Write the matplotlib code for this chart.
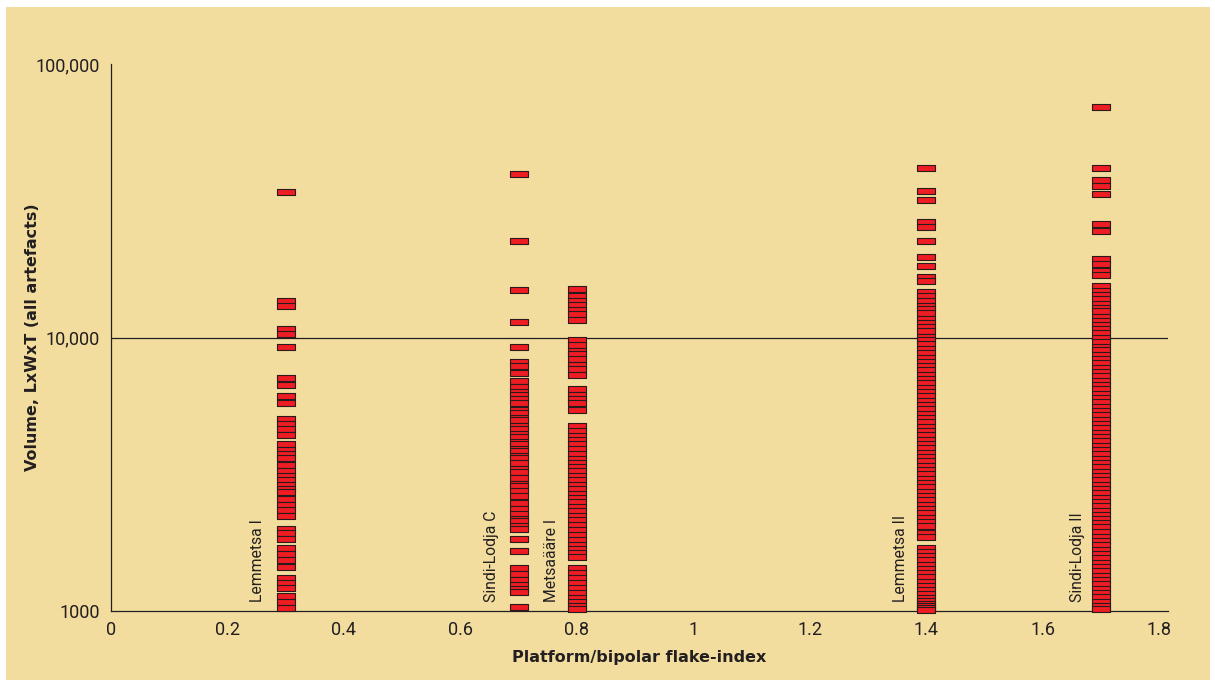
import matplotlib.pyplot as plt
from matplotlib.patches import Rectangle
from matplotlib.ticker import FixedLocator, NullLocator

plt.rcParams['font.family'] = ['Roboto', 'DejaVu Sans']

# flake-index of each site
sites = ["Lemmetsa I", "Sindi-Lodja C", "Metsaääre I", "Lemmetsa II", "Sindi-Lodja II"]
site_x = [0.3, 0.7, 0.8, 1.4, 1.7]
label_x = [0.252, 0.654, 0.756, 1.355, 1.66]

# artefact volumes (LxWxT) per site
lemmetsa_1 = [34000, 13650, 13090, 10700, 10260, 9220, 7130, 6730, 6090, 5760,
              5050, 4813, 4643, 4388, 4093, 3891, 3763, 3626, 3430, 3243,
              3110, 3007, 2900, 2804, 2712, 2557, 2437, 2350, 2222,
              1992, 1921, 1826, 1694, 1614, 1535, 1451,
              1316, 1262, 1210, 1134, 1081, 1028]

sindi_lodja_c = [39530, 22540, 14970, 11370, 9230,
                 8107, 7840, 7392, 6911, 6570, 6327, 6144, 5964, 5744, 5416,
                 5282, 5063, 4979, 4734, 4636, 4427, 4334, 4139, 4070, 3902,
                 3837, 3678, 3617, 3469, 3298, 3217, 3058, 2908, 2859, 2742,
                 2629, 2479, 2357, 2259, 2166, 2130, 2042, 1992,
                 1834, 1659, 1435, 1365, 1298, 1245, 1203, 1173, 1034]

metsaaare_1 = [15050, 14150, 13650, 13200, 12650, 12200, 11600,
               9752, 9350, 8910, 8670, 8370, 7905, 7690, 7270,
               6500, 6157, 5980, 5758, 5448,
               4734, 4540, 4353, 4209, 4070, 3902, 3741, 3587, 3469, 3354,
               3244, 3110, 3007, 2883, 2788, 2673, 2585, 2500, 2396, 2318,
               2221, 2148, 2060, 1975, 1894, 1816, 1741, 1684, 1629, 1574,
               1435, 1376, 1320, 1266, 1213, 1163, 1116, 1079, 1043, 1017]

lemmetsa_2 = [41650, 34200, 31890, 26350, 25270, 22590, 19750, 18310, 16590, 16140,
              14720, 14230, 13650, 13090, 12660, 12240, 11720, 11340, 10880, 10520,
              10080, 9752, 9430, 9040, 8745, 8450, 8107, 7840, 7580, 7270,
              7030, 6800, 6515, 6300, 6090, 5840, 5650, 5460, 5235, 5063,
              4896, 4694, 4540, 4389, 4209, 4070, 3934, 3773, 3647, 3527,
              3383, 3271, 3162, 3032, 2932, 2835, 2719, 2629, 2542, 2438,
              2357, 2279, 2184, 2112, 2042, 1933, 1862,
              1698, 1642, 1587, 1535, 1472, 1423, 1376, 1331, 1276, 1234,
              1193, 1154, 1116, 1088, 1061, 1043, 1025, 1008]

sindi_lodja_2 = [69800, 41830, 37720, 35870, 33460, 26000, 24580,
                 19370, 18580, 17560, 16980,
                 15480, 14840, 14350, 13880, 13310, 12870, 12450, 11920, 11530, 11150,
                 10700, 10350, 10000, 9590, 9270, 8967, 8600, 8313, 8040, 7710,
                 7455, 7207, 6911, 6681, 6461, 6196, 5990, 5792, 5554, 5371,
                 5192, 4979, 4814, 4655, 4465, 4316, 4174, 4001, 3869, 3741,
                 3587, 3469, 3354, 3217, 3110, 3007, 2883, 2788, 2697, 2585,
                 2500, 2417, 2318, 2240, 2166, 2095, 2025, 1942, 1862, 1801,
                 1741, 1670, 1615, 1561, 1497, 1447, 1399, 1342, 1298, 1255,
                 1203, 1163, 1125, 1079, 1043, 1017]

volumes = [lemmetsa_1, sindi_lodja_c, metsaaare_1, lemmetsa_2, sindi_lodja_2]

fig = plt.figure(figsize=(12.15, 6.86), dpi=100, facecolor='white')
fig.patches.append(Rectangle((6 / 1215, 6 / 686), 1204 / 1215, 673 / 686,
                             transform=fig.transFigure, facecolor='#F2DC9E',
                             edgecolor='none', zorder=-10))

ax = fig.add_axes([111 / 1215, 75 / 686, 1057 / 1215, 547 / 686])
ax.set_facecolor('none')

# flat bar-shaped marker
bar = [(-1, -0.3), (1, -0.3), (1, 0.3), (-1, 0.3), (-1, -0.3)]

for x, vals, lx, name in zip(site_x, volumes, label_x, sites):
    ax.plot([x] * len(vals), vals, ls='none', marker=bar, ms=13,
            mfc='#EE1D24', mec='#2A1A1A', mew=0.8, clip_on=False, zorder=3)
    ax.text(lx, 1080, name, rotation=90, ha='center', va='bottom',
            fontsize=11.3, color='#231F20')

ax.set_yscale('log')
ax.set_ylim(1000, 100000)
ax.set_xlim(0, 1.8146)

ax.yaxis.set_major_locator(FixedLocator([1000, 10000, 100000]))
ax.yaxis.set_minor_locator(NullLocator())
ax.set_yticklabels(["1000", "10,000", "100,000"])
ax.set_xticks([0, 0.2, 0.4, 0.6, 0.8, 1.0, 1.2, 1.4, 1.6, 1.8])
ax.set_xticklabels(["0", "0.2", "0.4", "0.6", "0.8", "1", "1.2", "1.4", "1.6", "1.8"])
ax.tick_params(axis='both', length=0, labelsize=13, colors='#231F20')
ax.tick_params(axis='y', pad=8)
ax.tick_params(axis='x', pad=7)

ax.axhline(10000, color='#231F20', lw=0.9, zorder=1)

for side in ['top', 'right']:
    ax.spines[side].set_visible(False)
for side in ['left', 'bottom']:
    ax.spines[side].set_color('#231F20')
    ax.spines[side].set_linewidth(0.9)

ax.set_xlabel("Platform/bipolar flake-index", family='DejaVu Sans', fontsize=11.5,
              fontweight='bold', color='#231F20', labelpad=8)
ax.set_ylabel("Volume, LxWxT (all artefacts)", family='DejaVu Sans', fontsize=11.5,
              fontweight='bold', color='#231F20', labelpad=-3)

fig.savefig('out.png', dpi=100)
